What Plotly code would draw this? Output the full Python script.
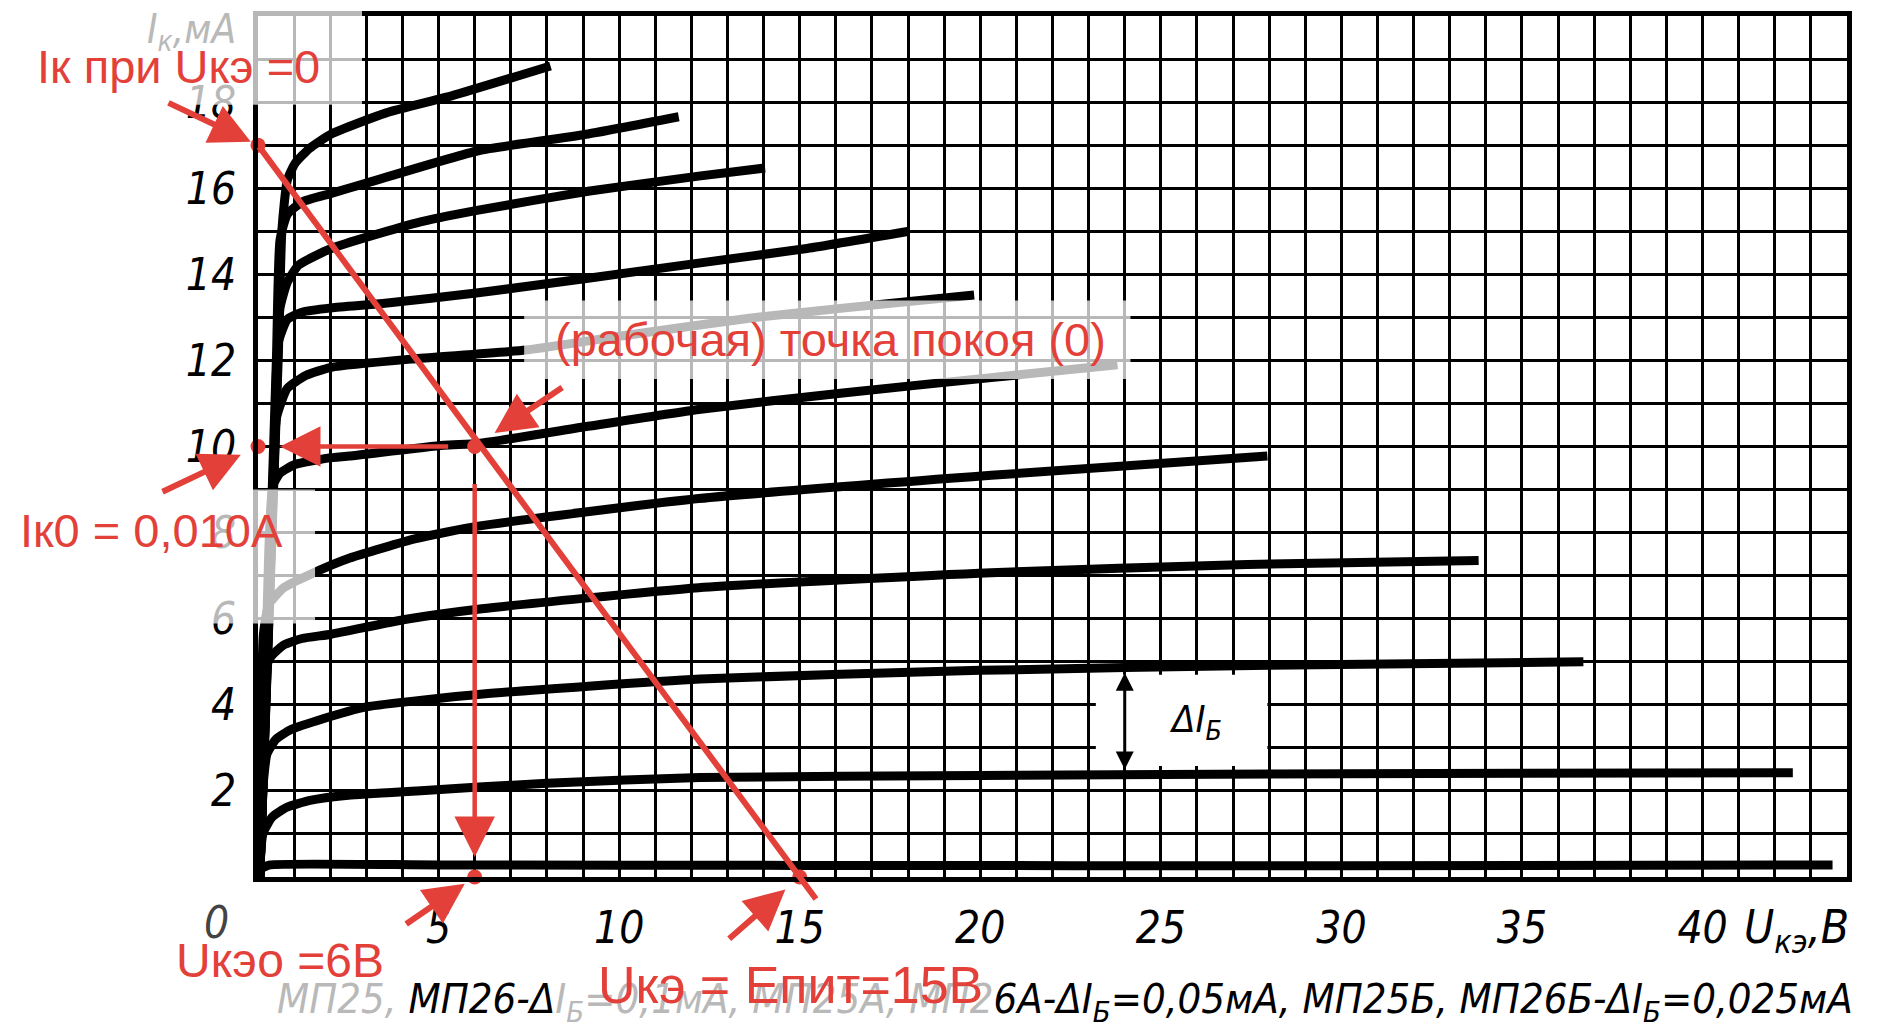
import plotly.graph_objects as go

# ---------------- data ----------------
# Output characteristics Iк(Uкэ) of the transistor, top curve first (Uкэ in V, Iк in mA)
uce_a = [0.05, 0.56, 0.66, 0.81, 1.02, 1.42, 2.03, 3.55, 5.38, 8.1]
ik_a = [0.0, 12.04, 15.0, 16.18, 16.57, 16.92, 17.26, 17.75, 18.15, 18.84]
uce_b = [0.05, 0.51, 0.61, 0.81, 1.22, 2.03, 3.05, 6.1, 9.14, 11.65]
ik_b = [0.0, 12.04, 14.8, 15.39, 15.68, 15.88, 16.13, 16.87, 17.26, 17.66]
uce_c = [0.05, 0.51, 0.61, 0.81, 1.12, 2.03, 4.37, 6.1, 9.14, 12.2, 14.04]
ik_c = [0.0, 11.06, 13.22, 13.81, 14.21, 14.6, 15.19, 15.49, 15.93, 16.28, 16.47]
uce_d = [0.05, 0.46, 0.56, 0.81, 1.22, 2.03, 3.45, 6.1, 9.14, 12.2, 15.2, 18.03]
ik_d = [0.0, 10.07, 12.4, 12.95, 13.12, 13.22, 13.32, 13.57, 13.91, 14.26, 14.6, 15.0]
uce_e = [0.05, 0.41, 0.51, 0.81, 1.32, 2.03, 4.37, 7.42, 10.16, 13.6, 16.26, 19.83]
ik_e = [0.0, 9.09, 10.66, 11.35, 11.65, 11.84, 12.04, 12.24, 12.58, 12.98, 13.22, 13.52]
uce_f = [0.05, 0.3, 0.41, 0.61, 1.02, 1.93, 2.54, 5.14, 6.1, 9.14, 12.2, 16.26, 20.3, 23.8]
ik_f = [0.0, 7.61, 9.09, 9.38, 9.58, 9.73, 9.78, 10.03, 10.07, 10.47, 10.86, 11.25, 11.6, 11.9]
uce_g = [0.05, 0.15, 0.3, 0.71, 1.42, 2.54, 4.37, 6.1, 12.2, 20.3, 27.95]
ik_g = [0.0, 5.64, 6.33, 6.72, 7.02, 7.41, 7.86, 8.15, 8.79, 9.33, 9.78]
uce_h = [0.05, 0.12, 0.3, 0.71, 1.22, 2.03, 4.06, 6.2, 12.2, 20.3, 27.4, 33.8]
ik_h = [0.0, 3.18, 5.05, 5.39, 5.54, 5.64, 5.98, 6.23, 6.72, 7.07, 7.26, 7.35]
uce_j = [0.04, 0.08, 0.25, 0.5, 0.9, 1.63, 3.0, 6.23, 12.24, 20.0, 28.0, 36.7]
ik_j = [0.0, 1.5, 2.86, 3.2, 3.42, 3.63, 3.95, 4.25, 4.6, 4.8, 4.92, 5.0]
uce_k = [0.03, 0.14, 0.4, 0.8, 1.44, 2.5, 4.4, 8.0, 12.24, 20.0, 30.0, 42.5]
ik_k = [0.0, 1.02, 1.4, 1.62, 1.78, 1.9, 2.0, 2.18, 2.31, 2.36, 2.4, 2.42]
uce_l = [0.02, 0.1, 0.33, 5.0, 15.0, 30.0, 43.6]
ik_l = [0.0, 0.2, 0.28, 0.28, 0.27, 0.26, 0.28]

# load line / operating point values
ik_short = 17.0     # Iк при Uкэ = 0, mA
u_supply = 15.0     # Uкэ = Eпит, V
u_q = 6.0           # Uкэо, V
i_q = 10.0          # Iк0, mA

x_ticks = [5, 10, 15, 20, 25, 30, 35, 40]
y_ticks = [2, 4, 6, 8, 10, 12, 14, 16, 18]

# ---------------- styling ----------------
RED = "#E3403A"
GREY = "#b9b9b9"
TECH = "Liberation Sans Narrow, DejaVu Sans Condensed, DejaVu Sans, sans-serif"
RED_FONT = dict(family="Liberation Sans, Arial, sans-serif", size=47, color=RED)
W, H = 1884, 1033
ML, MR, MT, MB = 258, 37, 11, 156
X_MAX, Y_MAX = 44, 20


def px(v):
    return v / X_MAX


def py(i):
    return i / Y_MAX


fig = go.Figure()

curves = [(uce_a, ik_a), (uce_b, ik_b), (uce_c, ik_c), (uce_d, ik_d), (uce_e, ik_e),
          (uce_f, ik_f), (uce_g, ik_g), (uce_h, ik_h), (uce_j, ik_j), (uce_k, ik_k),
          (uce_l, ik_l)]
for u, i in curves:
    fig.add_trace(go.Scatter(x=u, y=i, mode="lines",
                             line=dict(color="black", width=9, shape="spline", smoothing=0.5),
                             hoverinfo="skip", showlegend=False))

# red points
fig.add_trace(go.Scatter(x=[0, u_q, 0, u_q, u_supply], y=[ik_short, i_q, i_q, 0, 0],
                         mode="markers", marker=dict(color=RED, size=15),
                         cliponaxis=False, hoverinfo="skip", showlegend=False))

# white field with the ΔIб label
fig.add_shape(type="rect", xref="x", yref="y", x0=23.2, x1=27.95, y0=2.58, y1=4.7,
              fillcolor="white", line_width=0, layer="between")

# translucent white frames behind the red captions (v0, v1, i_top, i_bottom)
boxes = [(-6.73, 2.88, 20.5, 17.94), (7.37, 24.16, 13.39, 11.57), (-7.0, 1.58, 9.0, 5.89),
         (-2.71, 3.93, -1.18, -3.42), (8.37, 21.1, -1.57, -3.42)]
for v0, v1, i0, i1 in boxes:
    fig.add_shape(type="rect", xref="paper", yref="paper", x0=px(v0), x1=px(v1),
                  y0=py(i1), y1=py(i0), fillcolor="rgba(255,255,255,0.72)",
                  line_width=0, layer="above")

ann = []


def label(text, v, i, font):
    ann.append(dict(x=px(v), y=py(i), xref="paper", yref="paper", showarrow=False,
                    xanchor="center", yanchor="middle", text=text, font=font))


# black labels of the original drawing
caption = (f'<span style="color:{GREY}">МП25, </span>МП26-Δ'
           f'<span style="color:{GREY}">I<sub>Б</sub>=0,1мА, МП25А, МП2</span>'
           '6А-ΔI<sub>Б</sub>=0,05мА, МП25Б, МП26Б-ΔI<sub>Б</sub>=0,025мА')
label(caption, 22.34, -2.9, dict(family=TECH, size=41.5, color="black", style="italic"))
label("0", -1.16, -1.06, dict(family=TECH, size=44, color="#444444", style="italic"))
label("I<sub>к</sub>,мА", -1.83, 19.62, dict(family=TECH, size=40, color=GREY, style="italic"))
label("U<sub>кэ</sub>,В", 42.6, -1.25, dict(family=TECH, size=46, color="black", style="italic"))
ann.append(dict(x=25.96, y=3.62, xref="x", yref="y", showarrow=False, text="ΔI<sub>Б</sub>",
                xanchor="center", yanchor="middle",
                font=dict(family=TECH, size=38, color="black", style="italic")))
ann.append(dict(x=24.0, y=2.5, ax=24.0, ay=4.78, xref="x", yref="y", axref="x", ayref="y",
                text="", showarrow=True, arrowhead=2, arrowside="end+start",
                arrowwidth=3, arrowsize=1.2, arrowcolor="black", startarrowhead=2,
                startarrowsize=1.2))

# red captions
red_labels = [("Iк при Uкэ =0", -2.2, 18.82, 47), ("(рабочая) точка покоя (0)", 15.85, 12.49, 47),
              ("Iк0 = 0,010А", -2.94, 8.04, 47), ("Uкэо =6В", 0.6, -1.94, 48),
              ("Uкэ = Епит=15В", 14.75, -2.5, 52)]
for txt, v, i, fs in red_labels:
    label(txt, v, i, dict(RED_FONT, size=fs))

# load line, extended a little past Eпит
ext = 1.03
ann.append(dict(x=u_supply * ext, y=ik_short * (1 - ext), ax=0, ay=ik_short,
                xref="x", yref="y", axref="x", ayref="y", text="", showarrow=True,
                arrowhead=0, arrowwidth=6, arrowcolor=RED, standoff=0, startstandoff=0))

# arrows from the operating point to the axes
ann.append(dict(x=0, y=i_q, ax=u_q, ay=i_q, xref="x", yref="y", axref="x", ayref="y",
                text="", showarrow=True, arrowhead=2, arrowsize=1.8, arrowwidth=4.5,
                arrowcolor=RED, standoff=22, startstandoff=25))
ann.append(dict(x=u_q, y=0, ax=u_q, ay=i_q, xref="x", yref="y", axref="x", ayref="y",
                text="", showarrow=True, arrowhead=2, arrowsize=1.8, arrowwidth=4.5,
                arrowcolor=RED, standoff=20, startstandoff=36))

# pointer arrows of the captions (tail offsets in pixels)
pointers = [(0, ik_short, -91, -43, 8), (u_q, i_q, 89, -60, 24), (0, i_q, -97, 46, 19),
            (u_q, 0, -70, 48, 12), (u_supply, 0, -72, 63, 19)]
for x0, y0, dx, dy, so in pointers:
    ann.append(dict(x=x0, y=y0, ax=dx, ay=dy, xref="x", yref="y", text="", showarrow=True,
                    arrowhead=2, arrowsize=1.35, arrowwidth=6, arrowcolor=RED, standoff=so))

tick_font = dict(family=TECH, size=44, color="black", style="italic")
grid = dict(showgrid=True, gridcolor="black", gridwidth=3)
fig.update_layout(
    width=W, height=H, margin=dict(l=ML, r=MR, t=MT, b=MB),
    paper_bgcolor="white", plot_bgcolor="white", showlegend=False,
    xaxis=dict(range=[0, X_MAX], tickvals=x_ticks, ticktext=[str(v) for v in x_ticks],
               minor=dict(dtick=1, tick0=0, **grid), **grid,
               showline=True, linecolor="black", linewidth=5, mirror=True, ticks="",
               tickfont=tick_font, ticklabelstandoff=8, zeroline=False, fixedrange=True),
    yaxis=dict(range=[0, Y_MAX], tickvals=y_ticks, ticktext=[str(v) for v in y_ticks],
               minor=dict(dtick=1, tick0=0, **grid), **grid,
               showline=True, linecolor="black", linewidth=5, mirror=True, ticks="",
               tickfont=tick_font, ticklabelstandoff=8, zeroline=False, fixedrange=True),
    annotations=ann,
)

fig.write_html("out.html", config={"displayModeBar": False},
               post_script="document.body.style.margin='0';")
